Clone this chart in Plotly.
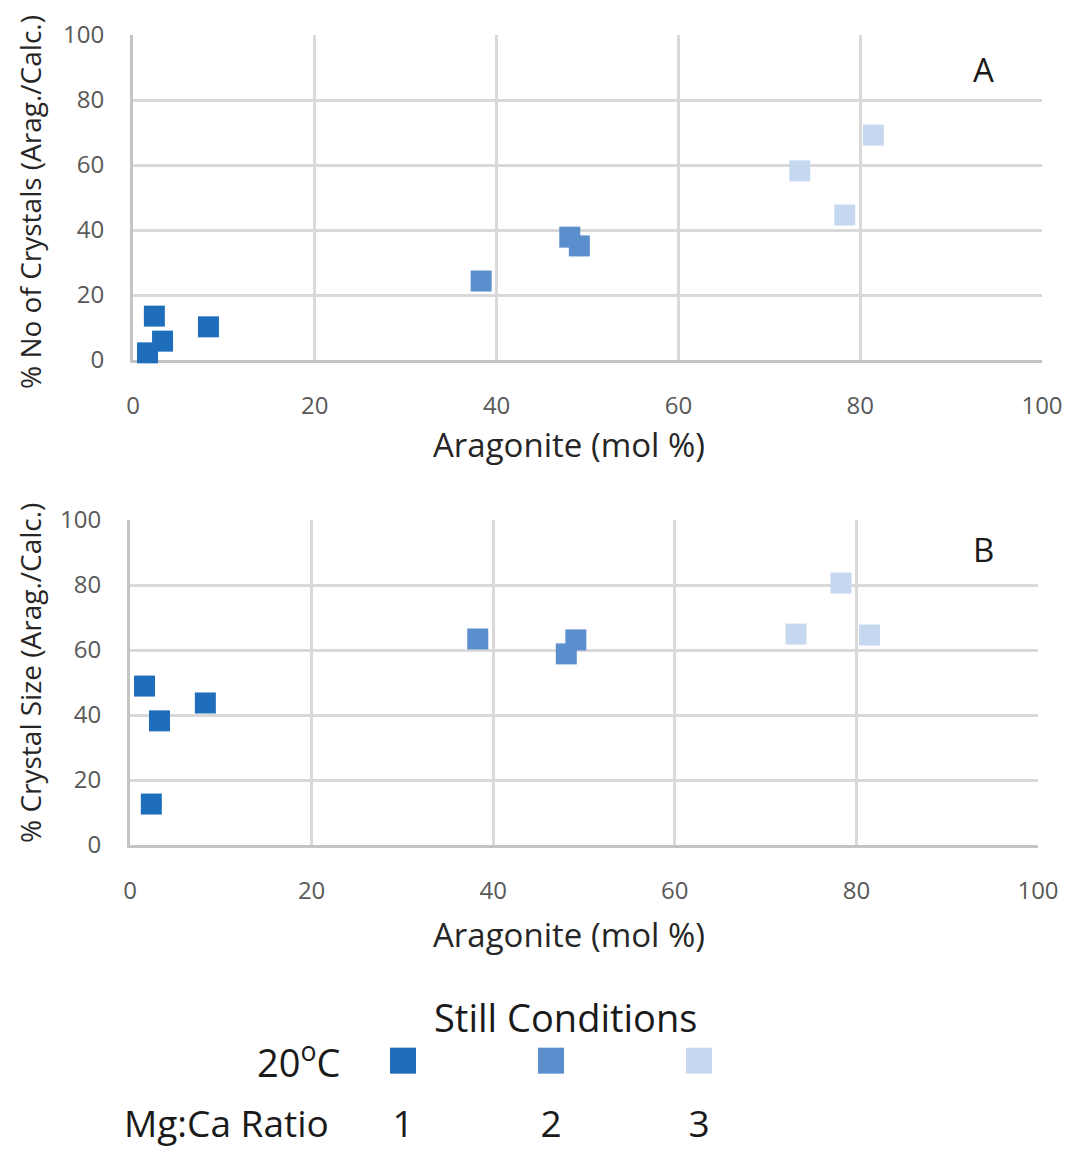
import plotly.graph_objects as go

# ---- data ----
mg_ca_ratio = [1, 2, 3]
colors = ["#1F6EBC", "#5B8ECC", "#C6D8EF"]

arag_r1 = [1.6, 2.35, 3.25, 8.3]
arag_r2 = [38.3, 48.05, 49.1]
arag_r3 = [73.35, 78.3, 81.45]

num_r1 = [2.2, 13.5, 5.8, 10.2]
num_r2 = [24.3, 37.8, 35.1]
num_r3 = [58.2, 44.6, 69.2]

size_r1 = [48.9, 12.6, 38.2, 43.7]
size_r2 = [63.4, 58.8, 63.1]
size_r3 = [64.9, 80.6, 64.6]

x_ticks = [0, 20, 40, 60, 80, 100]
y_ticks = [0, 20, 40, 60, 80, 100]

FONT = "Open Sans"
# page body has an 8px margin; figure is drawn inside it
OFF = 8
W, H = 1071 - 2 * OFF, 1156 - 2 * OFF


def px(x):
    return (x - OFF) / W


def py(y):
    return 1 - (y - OFF) / H


fig = go.Figure()

groups = [(arag_r1, num_r1, size_r1), (arag_r2, num_r2, size_r2), (arag_r3, num_r3, size_r3)]
for (xs, ya, yb), c, r in zip(groups, colors, mg_ca_ratio):
    fig.add_trace(go.Scatter(x=xs, y=ya, mode="markers", xaxis="x", yaxis="y",
                             marker=dict(symbol="square", size=21, color=c),
                             cliponaxis=False, showlegend=False, name=f"Mg:Ca {r}"))
    fig.add_trace(go.Scatter(x=xs, y=yb, mode="markers", xaxis="x2", yaxis="y2",
                             marker=dict(symbol="square", size=21, color=c),
                             cliponaxis=False, showlegend=False, name=f"Mg:Ca {r}"))

# custom legend on a hidden axis
fig.add_trace(go.Scatter(x=mg_ca_ratio, y=[1, 1, 1], mode="markers", xaxis="x3", yaxis="y3",
                         marker=dict(symbol="square", size=26, color=colors),
                         cliponaxis=False, showlegend=False))
fig.add_trace(go.Scatter(x=mg_ca_ratio, y=[0, 0, 0], mode="text", xaxis="x3", yaxis="y3",
                         text=[str(r) for r in mg_ca_ratio],
                         textfont=dict(family=FONT, size=37, color="#1a1a1a"),
                         cliponaxis=False, showlegend=False))


def xax(domain, anchor):
    return dict(domain=domain, anchor=anchor, range=[0, 100], tickvals=x_ticks,
                showgrid=True, gridcolor="#d9d9d9", gridwidth=3, automargin=False,
                showline=True, linecolor="#c4c4c4", linewidth=3, zeroline=False,
                ticks="", ticklabelstandoff=22, layer="below traces",
                tickfont=dict(family=FONT, size=24, color="#595959"))


def yax(domain, anchor):
    return dict(domain=domain, anchor=anchor, range=[0, 100], tickvals=y_ticks,
                showgrid=True, gridcolor="#d9d9d9", gridwidth=3, automargin=False,
                showline=True, linecolor="#c4c4c4", linewidth=3, zeroline=False,
                ticks="", ticklabelstandoff=21, layer="below traces",
                tickfont=dict(family=FONT, size=24, color="#595959"))


fig.update_layout(
    width=W, height=H,
    margin=dict(l=0, r=0, t=0, b=0, autoexpand=False),
    paper_bgcolor="white", plot_bgcolor="white",
    font=dict(family=FONT),
    xaxis=xax([px(133), px(1042)], "y"),
    yaxis=yax([py(360), py(35)], "x"),
    xaxis2=xax([px(130), px(1038)], "y2"),
    yaxis2=yax([py(845), py(520)], "x2"),
    xaxis3=dict(domain=[px(329), px(773)], anchor="y3", range=[0.5, 3.5], visible=False, automargin=False),
    yaxis3=dict(domain=[py(1134), py(1054)], anchor="x3", range=[-0.1, 1.1], visible=False, automargin=False),
)


def ann(text, x, y, size, color="#262626", angle=0):
    fig.add_annotation(text=text, x=px(x), y=py(y), xref="paper", yref="paper",
                       showarrow=False, textangle=angle, xanchor="center", yanchor="middle",
                       font=dict(family=FONT, size=size, color=color))


ann("Aragonite (mol %)", 569, 445, 33)
ann("Aragonite (mol %)", 569, 934, 33)
ann("% No of Crystals (Arag./Calc.)", 30, 202, 28, angle=-90)
ann("% Crystal Size (Arag./Calc.)", 30, 673, 28, angle=-90)
ann("A", 983, 70, 33, color="#1a1a1a")
ann("B", 983, 549, 33, color="#1a1a1a")
ann("Still Conditions", 565, 1017, 38, color="#1a1a1a")
ann("20<sup>o</sup>C", 298, 1060, 38, color="#1a1a1a")
ann("Mg:Ca Ratio", 226, 1122, 37, color="#1a1a1a")

fig.write_html("out.html")
